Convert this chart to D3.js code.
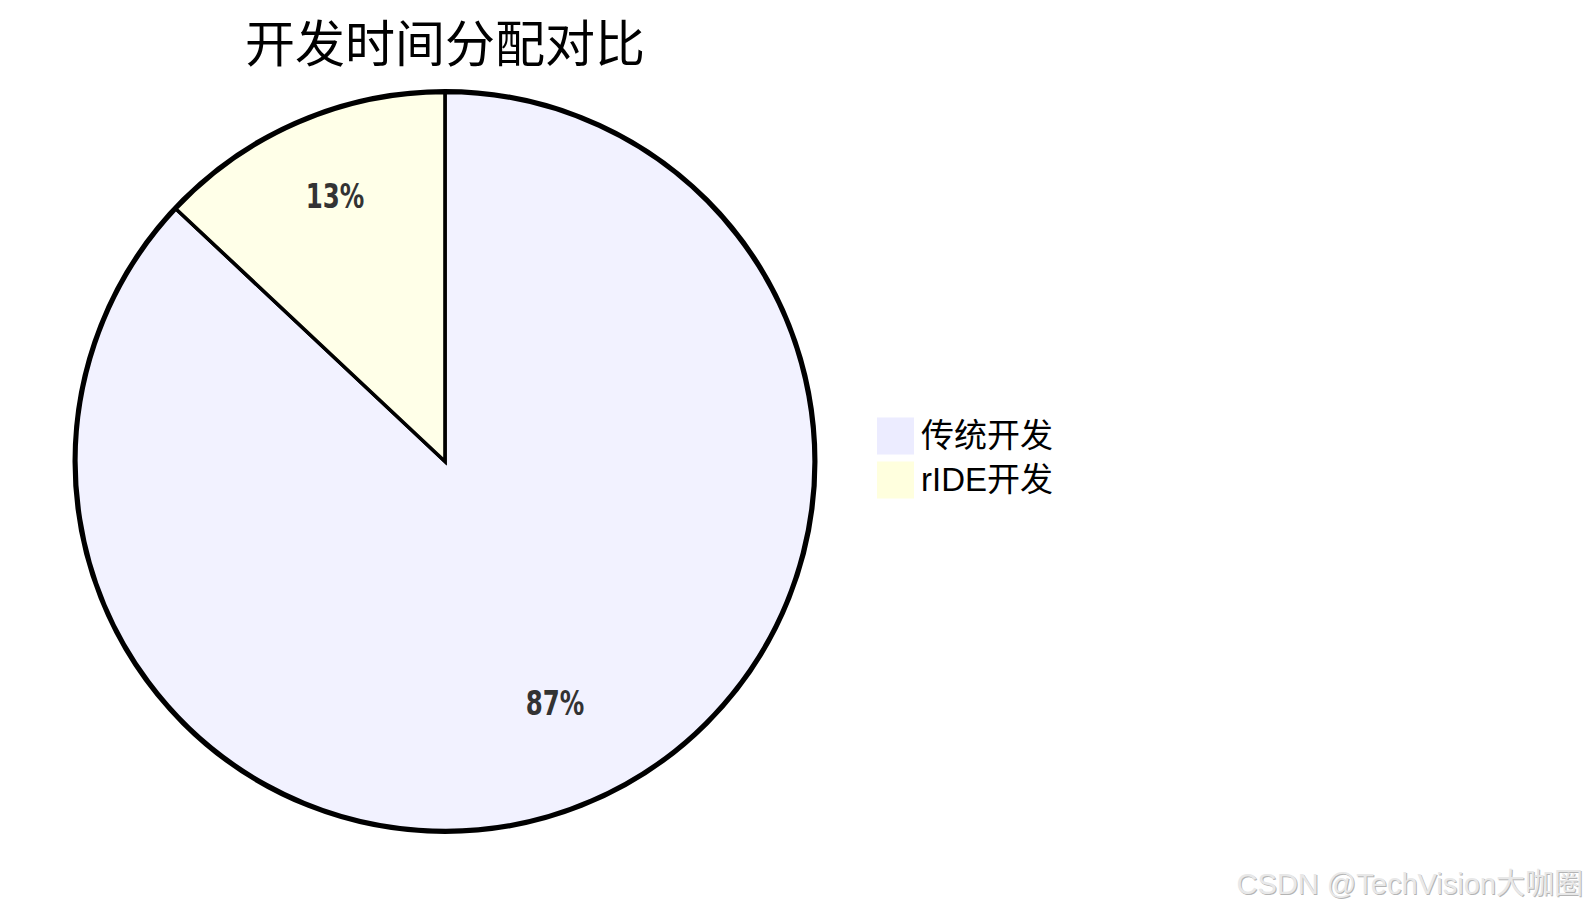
<!DOCTYPE html>
<html><head><meta charset="utf-8">
<script src="https://cdn.jsdelivr.net/npm/d3@7"></script>
<style>
html,body{margin:0;padding:0;background:#fff;}
svg{display:block;}
</style></head>
<body>
<svg id="chart" width="1590" height="914"></svg>
<script>
const title = "开发时间分配对比";
const categories = ["传统开发", "rIDE开发"];
const values = [87, 13];
const colors = ["#ECECFF", "#FFFFDE"];
const watermark = "CSDN @TechVision大咖圈";

const svg = d3.select("#chart");
const cx = 445, cy = 461.5, radius = 369;
const pctFont = "'DejaVu Sans Condensed','DejaVu Sans',sans-serif";
const legendFont = "'Liberation Sans','Noto Sans CJK SC',sans-serif";

const color = d3.scaleOrdinal().domain(categories).range(colors);
const data = categories.map((c, i) => ({label: c, value: values[i]}));
const total = d3.sum(values);

const pie = d3.pie().value(d => d.value).sort(null);
const arc = d3.arc().innerRadius(0).outerRadius(radius);
const labelArc = d3.arc().innerRadius(radius * 0.75).outerRadius(radius * 0.75);

const g = svg.append("g").attr("transform", `translate(${cx},${cy})`);

g.append("circle").attr("r", radius + 1.5).attr("fill", "none")
  .attr("stroke", "#000").attr("stroke-width", 4);

const arcs = pie(data);
g.selectAll("path.slice").data(arcs).enter().append("path")
  .attr("class", "slice")
  .attr("d", arc)
  .attr("fill", d => color(d.data.label))
  .attr("fill-opacity", 0.7)
  .attr("stroke", "#000").attr("stroke-width", 3.5);

g.selectAll("text.pct").data(arcs).enter().append("text")
  .attr("class", "pct")
  .attr("transform", d => { const c = labelArc.centroid(d); return `translate(${c[0]},${c[1]}) scale(0.8,1)`; })
  .attr("text-anchor", "middle")
  .attr("font-family", pctFont)
  .attr("font-size", 34)
  .attr("font-weight", 600)
  .attr("fill", "#333")
  .text(d => (d.data.value / total * 100).toFixed(0) + "%");

g.append("text")
  .attr("x", 0).attr("y", -400)
  .attr("text-anchor", "middle")
  .attr("font-family", "'Noto Sans CJK SC',sans-serif")
  .attr("font-size", 50)
  .attr("fill", "#000")
  .text(title);

const legend = g.selectAll("g.legend").data(categories).enter().append("g")
  .attr("class", "legend")
  .attr("transform", (d, i) => `translate(432,${i * 44 - 44})`);
legend.append("rect").attr("width", 37).attr("height", 37)
  .attr("fill", d => color(d));
legend.append("text").attr("x", 44).attr("y", 29)
  .attr("font-family", legendFont)
  .attr("font-size", 33)
  .attr("fill", "#000")
  .text(d => d);

// watermark
svg.append("text").attr("x", 1584).attr("y", 895).attr("text-anchor", "end")
  .attr("font-family", "'Liberation Sans','Noto Sans CJK SC',sans-serif")
  .attr("font-size", 29).attr("fill", "#b4b4b4").text(watermark);
svg.append("text").attr("x", 1583).attr("y", 894).attr("text-anchor", "end")
  .attr("font-family", "'Liberation Sans','Noto Sans CJK SC',sans-serif")
  .attr("font-size", 29).attr("fill", "#e8e8e8").text(watermark);
</script>
</body></html>
